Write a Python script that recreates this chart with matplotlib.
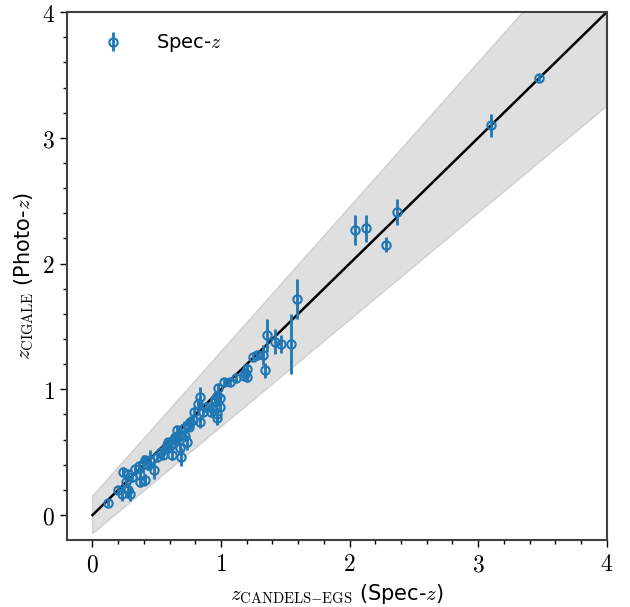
import matplotlib.pyplot as plt
import numpy as np

plt.rcParams['mathtext.fontset'] = 'cm'

# spectroscopic redshift, CIGALE photo-z and its 1-sigma error
z_spec = [3.47, 3.10, 2.37, 2.28, 2.13, 2.04, 1.59, 1.545, 1.47, 1.42,
          1.36, 1.34, 1.33, 1.28, 1.25, 1.20, 1.19, 1.20, 1.18, 1.12,
          1.07, 1.02, 0.98, 0.97, 0.99, 0.955, 0.99, 0.97, 0.97, 0.93,
          0.92, 0.84, 0.82, 0.86, 0.79, 0.76, 0.84, 0.71, 0.74, 0.66,
          0.61, 0.735, 0.68, 0.69, 0.66, 0.645, 0.58, 0.57, 0.61, 0.55,
          0.62, 0.48, 0.45, 0.41, 0.39, 0.37, 0.33, 0.31, 0.24, 0.26,
          0.37, 0.41, 0.295, 0.28, 0.20, 0.23, 0.12, 0.72, 0.75, 0.78,
          0.64, 0.53, 0.50, 0.36, 0.43, 0.88, 0.95, 0.67, 0.59, 0.28]
z_phot = [3.48, 3.10, 2.41, 2.15, 2.28, 2.27, 1.72, 1.36, 1.36, 1.38,
          1.43, 1.15, 1.27, 1.27, 1.26, 1.16, 1.13, 1.10, 1.11, 1.09,
          1.06, 1.06, 1.01, 0.95, 0.93, 0.90, 0.86, 0.80, 0.77, 0.85,
          0.82, 0.94, 0.88, 0.82, 0.82, 0.74, 0.74, 0.69, 0.72, 0.61,
          0.57, 0.58, 0.53, 0.46, 0.68, 0.60, 0.56, 0.53, 0.56, 0.48,
          0.48, 0.36, 0.44, 0.44, 0.41, 0.32, 0.37, 0.30, 0.34, 0.26,
          0.26, 0.28, 0.17, 0.20, 0.20, 0.17, 0.10, 0.63, 0.70, 0.76,
          0.62, 0.50, 0.46, 0.39, 0.40, 0.86, 0.92, 0.64, 0.58, 0.33]
z_err = [0.03, 0.09, 0.10, 0.06, 0.11, 0.12, 0.16, 0.24, 0.07, 0.10,
         0.13, 0.06, 0.08, 0.03, 0.03, 0.05, 0.04, 0.04, 0.03, 0.03,
         0.03, 0.03, 0.03, 0.04, 0.04, 0.04, 0.04, 0.06, 0.05, 0.05,
         0.04, 0.08, 0.05, 0.04, 0.04, 0.04, 0.05, 0.06, 0.04, 0.05,
         0.04, 0.06, 0.05, 0.07, 0.04, 0.04, 0.04, 0.03, 0.04, 0.03,
         0.04, 0.07, 0.08, 0.04, 0.07, 0.04, 0.04, 0.04, 0.04, 0.04,
         0.04, 0.05, 0.06, 0.06, 0.03, 0.06, 0.03, 0.04, 0.03, 0.04,
         0.03, 0.03, 0.04, 0.04, 0.04, 0.04, 0.03, 0.05, 0.03, 0.03]

fig = plt.figure(figsize=(6.3, 6.07), dpi=100)
ax = fig.add_axes([0.106, 0.110, 0.857, 0.870])

# 15% (1+z) envelope around the one-to-one relation
xx = np.linspace(0, 4, 200)
ax.fill_between(xx, xx - 0.15 * (1 + xx), xx + 0.15 * (1 + xx),
                color='gray', alpha=0.25, lw=1)
ax.plot(xx, xx, color='black', lw=1.8)

ax.errorbar(z_spec, z_phot, yerr=z_err, fmt='o', mfc='none', mec='tab:blue',
            color='tab:blue', ms=6, mew=1.5, elinewidth=2, capsize=0,
            label='Spec-$z$')

ax.set_xlim(-0.2, 4)
ax.set_ylim(-0.2, 4)
ax.set_xticks([0, 1, 2, 3, 4])
ax.set_yticks([0, 1, 2, 3, 4])
ax.set_xticklabels(['$%d$' % v for v in range(5)])
ax.set_yticklabels(['$%d$' % v for v in range(5)])
ax.set_xticks(np.arange(0, 4.01, 0.2), minor=True)
ax.set_yticks(np.arange(0, 4.01, 0.2), minor=True)
ax.tick_params(which='major', direction='out', length=5, width=1, labelsize=17)
ax.tick_params(which='minor', direction='out', length=3, width=1)
for s in ax.spines.values():
    s.set_linewidth(1.5)
    s.set_color('0.25')

ax.set_xlabel(r'$z_{\rm CANDELS{-}EGS}$ (Spec-$z$)', fontsize=15)
ax.set_ylabel(r'$z_{\rm CIGALE}$ (Photo-$z$)', fontsize=15)
ax.legend(loc='upper left', frameon=False, fontsize=14, borderaxespad=1.0,
          handletextpad=1.2, bbox_to_anchor=(0, 1.013))

fig.savefig('out.png', dpi=100)
